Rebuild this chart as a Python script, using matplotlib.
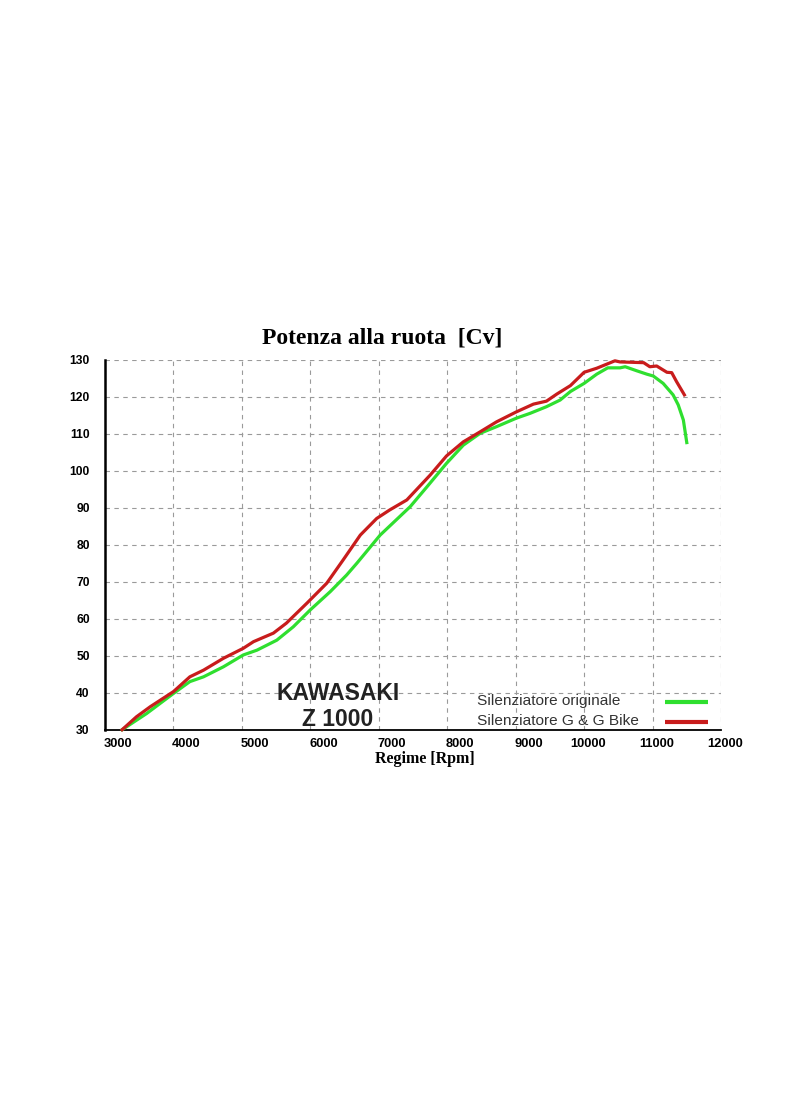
import matplotlib
matplotlib.use("Agg")
import matplotlib.pyplot as plt
from matplotlib.transforms import ScaledTranslation

# ---- data ----
rpm_orig = [3250, 3610, 4000, 4240, 4440, 4730, 5020, 5220, 5510, 5750, 6000, 6290,
            6530, 6680, 7020, 7460, 7720, 7990, 8235, 8480, 8720, 9010, 9210, 9450,
            9650, 9800, 10000, 10185, 10345, 10525, 10600, 10770, 10915, 11010,
            11155, 11300, 11375, 11450, 11500]
cv_orig = [30.0, 34.4, 39.8, 43.0, 44.3, 47.0, 50.2, 51.5, 54.2, 57.8, 62.4, 67.3,
           71.8, 75.0, 82.6, 90.3, 96.0, 102.0, 106.9, 110.1, 111.9, 114.2, 115.5, 117.3,
           119.1, 121.4, 123.6, 126.1, 127.8, 127.8, 128.1, 127.0, 126.1, 125.6,
           123.6, 120.5, 117.8, 113.7, 107.6]

rpm_gg = [3250, 3460, 3660, 4000, 4240, 4440, 4730, 5020, 5170, 5460, 5650, 5950,
          6240, 6480, 6730, 6970, 7160, 7410, 7750, 7990, 8235, 8480, 8720, 9010,
          9260, 9450, 9600, 9800, 10000, 10185, 10450, 10525, 10870, 10960, 11060,
          11210, 11280, 11350, 11465]
cv_gg = [30.0, 33.5, 36.2, 40.3, 44.3, 46.1, 49.3, 52.0, 53.8, 56.1, 58.8, 64.2,
         69.6, 75.9, 82.6, 87.1, 89.4, 92.1, 98.8, 104.0, 107.8, 110.5, 113.2, 115.9,
         118.0, 118.8, 120.7, 123.0, 126.6, 127.7, 129.7, 129.4, 129.2, 128.1, 128.3,
         126.6, 126.5, 124.1, 120.5]

x_ticks = [3000, 4000, 5000, 6000, 7000, 8000, 9000, 10000, 11000, 12000]
y_ticks = [30, 40, 50, 60, 70, 80, 90, 100, 110, 120, 130]
label_orig = "Silenziatore originale"
label_gg = "Silenziatore G & G Bike"
title = "Potenza alla ruota  [Cv]"
xlabel = "Regime [Rpm]"
brand = "KAWASAKI"
model = "Z 1000"

col_orig = "#2fdf2f"
col_gg = "#c81c1c"

# ---- figure ----
fig = plt.figure(figsize=(8, 10.96), dpi=100)
fig.patch.set_facecolor("white")
ax = fig.add_axes([0.13125, 0.3342, 0.77, 0.3376])

ax.plot(rpm_orig, cv_orig, color=col_orig, lw=2.3, label=label_orig,
        solid_joinstyle="round", zorder=3, clip_on=False)
ax.plot(rpm_gg, cv_gg, color=col_gg, lw=2.3, label=label_gg,
        solid_joinstyle="round", zorder=3, clip_on=False)

ax.set_xlim(3000, 12000)
ax.set_ylim(30, 130)
ax.set_xticks(x_ticks)
ax.set_yticks(y_ticks)
ax.set_xticklabels([str(v) for v in x_ticks], fontfamily="Liberation Sans",
                   fontweight="bold", fontsize=9.3)
ax.set_yticklabels([str(v) for v in y_ticks], fontfamily="Liberation Sans",
                   fontweight="bold", fontsize=8.7)
ax.tick_params(axis="both", length=0)
ax.tick_params(axis="x", pad=6)
ax.tick_params(axis="y", pad=11)

# tick labels in the original are shifted to the right of their grid lines
for lab, v in zip(ax.get_xticklabels(), x_ticks):
    dx = 13 if v < 10000 else 4
    lab.set_transform(lab.get_transform() + ScaledTranslation(dx / 100, 0, fig.dpi_scale_trans))

ax.set_axisbelow(True)
ax.grid(True, color="#9a9a9a", linestyle=(0, (4, 4)), linewidth=0.8)
for s in ["top", "right"]:
    ax.spines[s].set_visible(False)
ax.spines["left"].set_linewidth(1.8)
ax.spines["bottom"].set_linewidth(1.3)
ax.spines["left"].set_color("black")
ax.spines["bottom"].set_color("black")

fig.text(382 / 800, 1 - 338 / 1096, title, ha="center", va="center",
         fontfamily="Liberation Serif", fontweight="bold", fontsize=17)
fig.text(425 / 800, 1 - 759 / 1096, xlabel, ha="center", va="center",
         fontfamily="Liberation Serif", fontweight="bold", fontsize=11.5)

ax.text(0.378, 0.099, brand, transform=ax.transAxes, ha="center", va="center",
        fontfamily="Liberation Sans", fontweight="bold", fontsize=16.5, color="#222222")
ax.text(0.377, 0.027, model, transform=ax.transAxes, ha="center", va="center",
        fontfamily="Liberation Sans", fontweight="bold", fontsize=16.5, color="#222222")

# legend: text left-aligned, line sample on the right
legend_rows = [(label_orig, col_orig, 0.066, 0.0757),
               (label_gg, col_gg, 0.012, 0.0208)]
for text, col, ty, ly in legend_rows:
    ax.text(0.604, ty, text, transform=ax.transAxes, ha="left", va="baseline",
            fontfamily="Liberation Sans", fontsize=11.1, color="#333333")
    ax.plot([0.909, 0.979], [ly, ly], transform=ax.transAxes, color=col,
            lw=3, solid_capstyle="butt", clip_on=False)

fig.savefig("out.png", dpi=100, facecolor="white")
